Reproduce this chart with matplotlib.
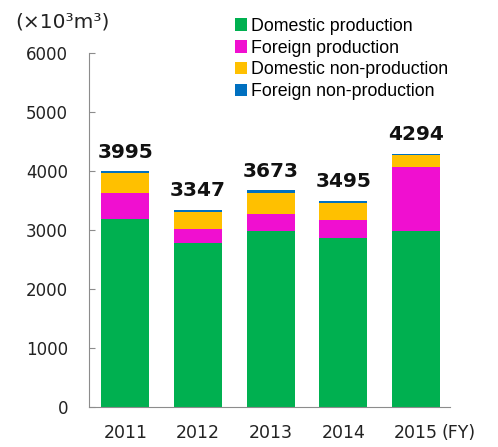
"""Stacked bar chart of annual volumes by production category, FY2011-2015."""

import matplotlib.pyplot as plt
import numpy as np

years = ["2011", "2012", "2013", "2014", "2015"]
domestic_production = [3190, 2780, 2985, 2870, 2985]
foreign_production = [430, 230, 285, 300, 1080]
domestic_non_production = [350, 300, 355, 295, 210]
foreign_non_production = [25, 37, 48, 30, 19]
totals = [3995, 3347, 3673, 3495, 4294]

series = [
    ("Domestic production", domestic_production, "#00B050"),
    ("Foreign production", foreign_production, "#F00FD0"),
    ("Domestic non-production", domestic_non_production, "#FFC000"),
    ("Foreign non-production", foreign_non_production, "#0070C0"),
]

fig = plt.figure(figsize=(4.98, 4.47), dpi=100)
ax = fig.add_axes([89 / 498, 40 / 447, 361 / 498, 354 / 447])

x = np.arange(len(years))
bottom = np.zeros(len(years))
handles = []
for name, values, color in series:
    bars = ax.bar(x, values, width=0.66, bottom=bottom, color=color, label=name)
    handles.append(bars)
    bottom += np.array(values)

for xi, total in zip(x, totals):
    ax.text(xi, total + 160, str(total), ha="center", va="bottom",
            fontsize=14.5, fontweight="bold", color="#111111")

ax.set_xlim(-0.5, 4.47)
ax.set_ylim(0, 6000)
ax.set_yticks(np.arange(0, 6001, 1000))
ax.set_xticks(x)
ax.set_xticklabels(years)

for side in ("top", "right"):
    ax.spines[side].set_visible(False)
for side in ("left", "bottom"):
    ax.spines[side].set_color("#8C8C8C")
ax.tick_params(axis="y", direction="in", length=4, color="#8C8C8C",
               labelsize=12, pad=15, labelcolor="#222222")
ax.tick_params(axis="x", length=0, labelsize=12.5, pad=12, labelcolor="#222222")

fig.text(15 / 498, 1 - 22 / 447, "(×10³m³)", fontsize=14.5, va="center",
         ha="left", color="#222222")
fig.text(441 / 498, 1 - 433 / 447, "(FY)", fontsize=12.5, va="center",
         ha="left", color="#222222")

leg = fig.legend(handles=handles, loc="upper left",
                 bbox_to_anchor=(226 / 498, 1 - 9 / 447),
                 frameon=False, handlelength=0.7, handleheight=0.7,
                 handletextpad=0.2, labelspacing=0.27, borderpad=0,
                 prop={"family": "Liberation Sans", "size": 12.8})

fig.savefig("out.png", dpi=100)
